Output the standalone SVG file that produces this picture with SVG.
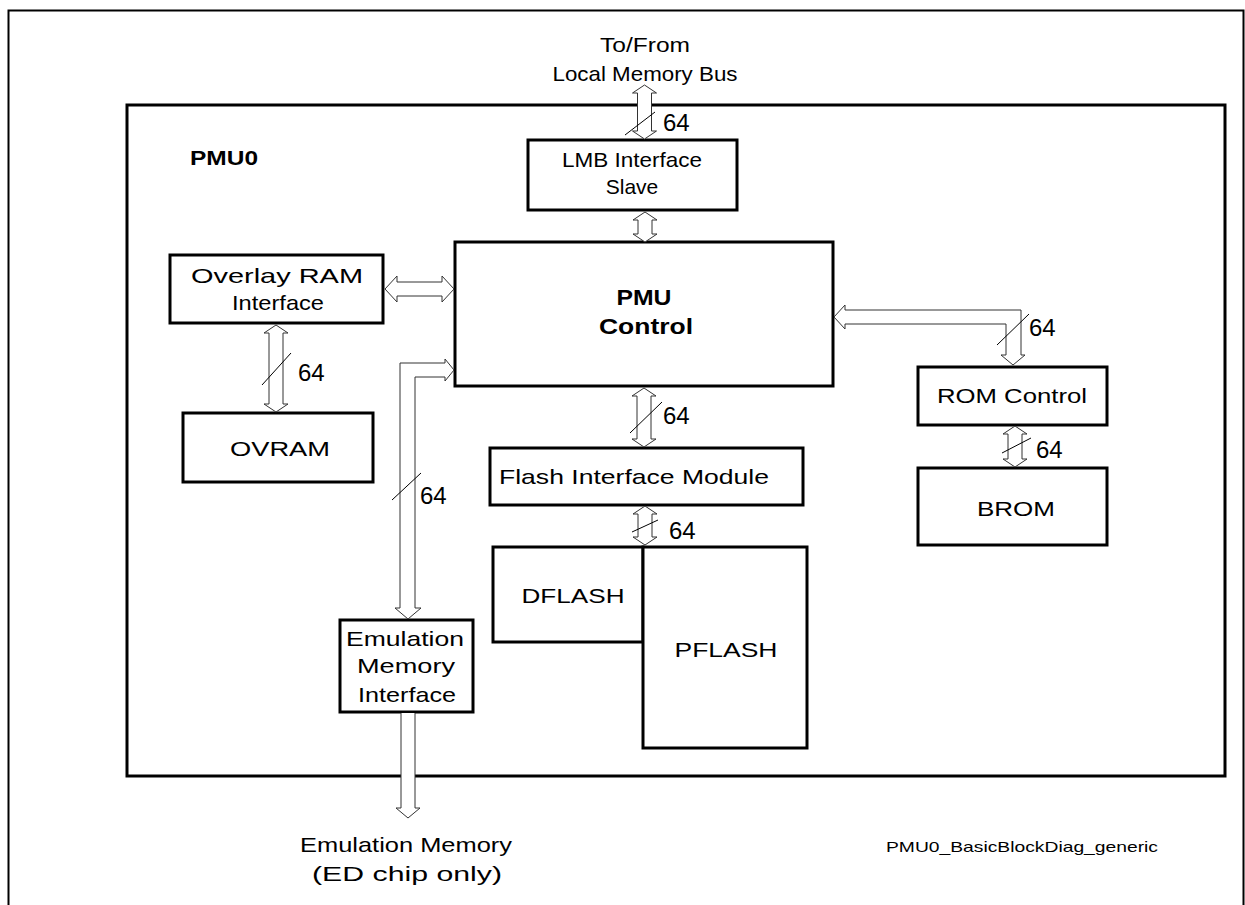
<svg xmlns="http://www.w3.org/2000/svg" width="1245" height="905" viewBox="0 0 1245 905">
<style>
.box{fill:#fff;stroke:#000;stroke-width:3}
.arr{fill:#fff;stroke:#333;stroke-width:1}
.sl{stroke:#000;stroke-width:1}
text{font-family:"Liberation Sans",Arial,sans-serif;font-size:21px;fill:#000}
.b{font-weight:bold}
.c{text-anchor:middle}
.n{font-size:24px}
</style>
<rect x="0" y="0" width="1245" height="905" fill="#fff"/>
<path d="M8.5,906 V10.5 H1243.5 V906" fill="none" stroke="#000" stroke-width="2"/>
<g id="pmu0">
<rect class="box" x="127" y="105" width="1098" height="671"/>
<text class="b" x="190" y="165" style="font-size:20px" textLength="68" lengthAdjust="spacingAndGlyphs">PMU0</text>
</g>
<g id="lmb"><rect class="box" x="528" y="140" width="209" height="70"/>
<text class="c" x="632" y="167" textLength="140" lengthAdjust="spacingAndGlyphs">LMB Interface</text><text class="c" x="632" y="194">Slave</text></g>
<g id="pmuctrl"><rect class="box" x="455" y="242" width="378" height="144"/>
<text class="c b" x="644" y="305" style="font-size:22px" textLength="55" lengthAdjust="spacingAndGlyphs">PMU</text><text class="c b" x="646" y="334" style="font-size:22px" textLength="94" lengthAdjust="spacingAndGlyphs">Control</text></g>
<g id="ovlram"><rect class="box" x="170" y="255" width="213" height="68"/>
<text class="c" x="277" y="283" textLength="172" lengthAdjust="spacingAndGlyphs">Overlay RAM</text><text class="c" x="278" y="310" textLength="92" lengthAdjust="spacingAndGlyphs">Interface</text></g>
<g id="ovram"><rect class="box" x="183" y="413" width="190" height="69"/>
<text class="c" x="280" y="456" textLength="100" lengthAdjust="spacingAndGlyphs">OVRAM</text></g>
<g id="fim"><rect class="box" x="490" y="448" width="313" height="57"/>
<text class="c" x="634" y="484" textLength="270" lengthAdjust="spacingAndGlyphs">Flash Interface Module</text></g>
<g id="dflash"><rect class="box" x="493" y="547" width="150" height="95"/>
<text class="c" x="573" y="603" textLength="103" lengthAdjust="spacingAndGlyphs">DFLASH</text></g>
<g id="pflash"><rect class="box" x="643" y="547" width="164" height="201"/>
<text class="c" x="726" y="657" textLength="103" lengthAdjust="spacingAndGlyphs">PFLASH</text></g>
<g id="romctrl"><rect class="box" x="918" y="367" width="189" height="58"/>
<text class="c" x="1012" y="403" textLength="150" lengthAdjust="spacingAndGlyphs">ROM Control</text></g>
<g id="brom"><rect class="box" x="918" y="468" width="189" height="77"/>
<text class="c" x="1016" y="516" textLength="78" lengthAdjust="spacingAndGlyphs">BROM</text></g>
<g id="emi"><rect class="box" x="340" y="620" width="133" height="92"/>
<text class="c" x="405" y="646" textLength="118" lengthAdjust="spacingAndGlyphs">Emulation</text><text class="c" x="406" y="673" textLength="98" lengthAdjust="spacingAndGlyphs">Memory</text><text class="c" x="407" y="702" textLength="98" lengthAdjust="spacingAndGlyphs">Interface</text></g>
<g id="connectors">
<path class="arr" d="M644.5,85 L656.5,93 L651.5,93 L651.5,131 L656.5,131 L644.5,139 L632.5,131 L637.5,131 L637.5,93 L632.5,93 Z"/>
<path class="arr" d="M645,212 L657,220 L652,220 L652,234 L657,234 L645,242 L633,234 L638,234 L638,220 L633,220 Z"/>
<path class="arr" d="M385,289 L397,276 L397,282 L442,282 L442,276 L454,289 L442,302 L442,296 L397,296 L397,302 Z"/>
<path class="arr" d="M276,325 L288,333 L283,333 L283,404 L288,404 L276,412 L264,404 L269,404 L269,333 L264,333 Z"/>
<path class="arr" d="M644,388 L656,396 L651,396 L651,439 L656,439 L644,447 L632,439 L637,439 L637,396 L632,396 Z"/>
<path class="arr" d="M645,506 L657,514 L652,514 L652,537 L657,537 L645,545 L633,537 L638,537 L638,514 L633,514 Z"/>
<path class="arr" d="M1015,426 L1027,434 L1022,434 L1022,459 L1027,459 L1015,467 L1003,459 L1008,459 L1008,434 L1003,434 Z"/>
<path class="arr" d="M834,317 L845,305 L845,310 L1021,310 L1021,355 L1025,355 L1013,365 L1001,355 L1006,355 L1006,324 L845,324 L845,329 Z"/>
<path class="arr" d="M454,370 L445,359 L445,363 L400,363 L400,608 L395,608 L408,619 L421,608 L415,608 L415,377 L445,377 L445,381 Z"/>
<path class="arr" d="M401,713 L401,808 L396,808 L408,818 L420,808 L415,808 L415,713"/>
<line class="sl" x1="625" y1="135" x2="655" y2="112"/>
<line class="sl" x1="262" y1="385" x2="291" y2="353"/>
<line class="sl" x1="630" y1="433" x2="662" y2="402"/>
<line class="sl" x1="632" y1="532" x2="658" y2="520"/>
<line class="sl" x1="997" y1="345" x2="1029" y2="314"/>
<line class="sl" x1="1002" y1="453" x2="1031" y2="438"/>
<line class="sl" x1="392" y1="500" x2="421" y2="473"/>
<text class="n" x="663" y="131">64</text>
<text class="n" x="298" y="381">64</text>
<text class="n" x="420" y="504">64</text>
<text class="n" x="663" y="424">64</text>
<text class="n" x="669" y="539">64</text>
<text class="n" x="1029" y="336">64</text>
<text class="n" x="1036" y="458">64</text>
</g>
<text class="c" x="645" y="52" textLength="90" lengthAdjust="spacingAndGlyphs">To/From</text>
<text class="c" x="645" y="81" textLength="185" lengthAdjust="spacingAndGlyphs">Local Memory Bus</text>
<text class="c" x="406" y="852" textLength="212" lengthAdjust="spacingAndGlyphs">Emulation Memory</text>
<text class="c" x="407" y="881" textLength="190" lengthAdjust="spacingAndGlyphs">(ED chip only)</text>
<text x="886" y="852" style="font-size:15px" textLength="272" lengthAdjust="spacingAndGlyphs">PMU0_BasicBlockDiag_generic</text>
</svg>
